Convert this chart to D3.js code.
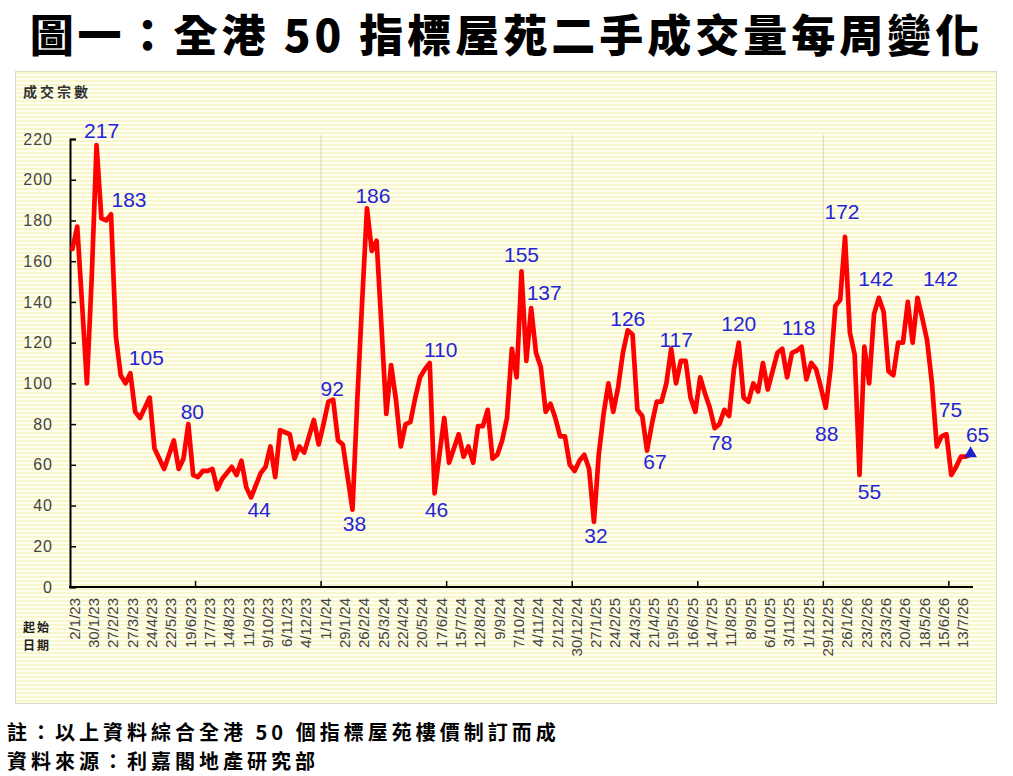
<!DOCTYPE html>
<html>
<head>
<meta charset="utf-8">
<script src="https://cdn.jsdelivr.net/npm/d3@7"></script>
<style>
  body { margin: 0; background: #fff; }
  svg { display: block; }
</style>
</head>
<body>
<div id="chart"></div>
<script>
// weekly transactions, 50 benchmark estates
var weeklyDeals = [
  166, 177, 139, 100, 152, 217, 181, 180, 183, 123,
  104, 100, 105, 86, 83, 88, 93, 68, 63, 58,
  65, 72, 58, 63, 80, 55, 54, 57, 57, 58,
  48, 53, 56, 59, 55, 62, 49, 44, 50, 56,
  59, 69, 54, 77, 76, 75, 63, 69, 66, 74,
  82, 70, 80, 91, 92, 72, 70, 54, 38, 92,
  140, 186, 165, 170, 128, 85, 109, 92, 69, 80,
  81, 93, 103, 107, 110, 46, 65, 83, 61, 68,
  75, 64, 69, 61, 79, 79, 87, 63, 65, 72,
  83, 117, 103, 155, 111, 137, 115, 108, 86, 90,
  83, 74, 74, 60, 57, 62, 65, 58, 32, 65,
  85, 100, 86, 98, 115, 126, 124, 87, 84, 67,
  80, 91, 91, 100, 117, 100, 111, 111, 93, 86,
  103, 95, 88, 78, 80, 87, 84, 107, 120, 93,
  91, 100, 96, 110, 97, 106, 115, 117, 103, 115,
  116, 118, 102, 110, 107, 98, 88, 107, 138, 141,
  172, 125, 114, 55, 118, 100, 134, 142, 135, 106,
  104, 120, 120, 140, 120, 142, 132, 121, 100, 69,
  74, 75, 55, 59, 64, 64, 65
];

// start-date labels, one every 4 weeks
var dateLabels = [
  "2/1/23", "30/1/23", "27/2/23", "27/3/23", "24/4/23", "22/5/23", "19/6/23",
  "17/7/23", "14/8/23", "11/9/23", "9/10/23", "6/11/23", "4/12/23", "1/1/24",
  "29/1/24", "26/2/24", "25/3/24", "22/4/24", "20/5/24", "17/6/24", "15/7/24",
  "12/8/24", "9/9/24", "7/10/24", "4/11/24", "2/12/24", "30/12/24", "27/1/25",
  "24/2/25", "24/3/25", "21/4/25", "19/5/25", "16/6/25", "14/7/25", "11/8/25",
  "8/9/25", "6/10/25", "3/11/25", "1/12/25", "29/12/25", "26/1/26", "23/2/26",
  "23/3/26", "20/4/26", "18/5/26", "15/6/26", "13/7/26"
];

var yTicks = [0, 20, 40, 60, 80, 100, 120, 140, 160, 180, 200, 220];

// weeks whose value is written on the chart
var labelledWeeks = [5, 8, 12, 24, 37, 54, 58, 61, 74, 75, 93, 95, 108,
                     115, 119, 124, 133, 138, 151, 156, 160, 163, 167, 175, 181, 186];

var titleText = "圖一：全港 50 指標屋苑二手成交量每周變化";
var noteLines = ["註：以上資料綜合全港 50 個指標屋苑樓價制訂而成",
                 "資料來源：利嘉閣地產研究部"];
var startLines = ["起始", "日期"];

var W = 1013, H = 776;
var svg = d3.select("#chart").append("svg").attr("width", W).attr("height", H);

// striped yellow background of the chart panel
var defs = svg.append("defs");
var pat = defs.append("pattern").attr("id", "stripes")
    .attr("patternUnits", "userSpaceOnUse").attr("width", 8).attr("height", 4);
pat.append("rect").attr("width", 8).attr("height", 4).attr("fill", "#fffff0");
pat.append("rect").attr("width", 8).attr("height", 2).attr("fill", "#f9f5cc");

svg.append("rect")
    .attr("x", 15.5).attr("y", 71.5).attr("width", 981).attr("height", 632)
    .attr("fill", "url(#stripes)").attr("stroke", "#dcdcc4");

// title
svg.append("text")
    .attr("x", W / 2).attr("y", 52)
    .attr("text-anchor", "middle")
    .style("font-family", "'Noto Sans CJK TC', sans-serif")
    .style("font-weight", 900).style("font-size", "44px")
    .style("letter-spacing", "4px")
    .text(titleText);

var x = d3.scaleBand().domain(d3.range(weeklyDeals.length)).range([70, 973]);
var y = d3.scaleLinear().domain([0, 220]).range([587, 139]);
var xc = function(i) { return x(i) + x.bandwidth() / 2; };

// yearly vertical grid lines
svg.append("g").selectAll("line")
    .data(d3.range(52, weeklyDeals.length, 52))
    .join("line")
    .attr("x1", function(d) { return x(d); }).attr("x2", function(d) { return x(d); })
    .attr("y1", 135).attr("y2", y(0))
    .attr("stroke", "#d6d6d0").attr("stroke-width", 1);

// y axis
var yAxis = svg.append("g").attr("transform", "translate(70,0)")
    .call(d3.axisLeft(y).tickValues(yTicks).tickSize(-6).tickPadding(17));
yAxis.select(".domain").attr("stroke", "#000").attr("stroke-width", 2);
yAxis.selectAll(".tick line").attr("stroke", "#000").attr("stroke-width", 1.5);
yAxis.selectAll("text")
    .style("font-family", "'Liberation Sans', Arial, sans-serif")
    .style("font-size", "16px").style("letter-spacing", "1px")
    .attr("fill", "#444");

svg.append("text")
    .attr("x", 23).attr("y", 97)
    .style("font-family", "'Noto Sans CJK TC', sans-serif")
    .style("font-weight", 700).style("font-size", "14px")
    .style("letter-spacing", "3px")
    .attr("fill", "#333")
    .text("成交宗數");

// x axis: date labels every 4 weeks
var xAxis = svg.append("g").attr("transform", "translate(0," + y(0) + ")")
    .call(d3.axisBottom(x)
      .tickValues(d3.range(0, weeklyDeals.length, 4))
      .tickSize(0)
      .tickFormat(function(i) { return dateLabels[i / 4]; }));
xAxis.select(".domain").remove();
xAxis.selectAll("text")
    .attr("transform", "rotate(-90)")
    .attr("text-anchor", "end")
    .attr("x", -11).attr("y", 2).attr("dy", "0.35em")
    .style("font-family", "'Liberation Sans', Arial, sans-serif")
    .style("font-size", "15px")
    .attr("fill", "#444");

// half-year tick marks between categories
svg.append("g").selectAll("line")
    .data(d3.range(26, weeklyDeals.length, 26))
    .join("line")
    .attr("x1", function(d) { return x(d); }).attr("x2", function(d) { return x(d); })
    .attr("y1", y(0)).attr("y2", y(0) - 6)
    .attr("stroke", "#000").attr("stroke-width", 1.5);

svg.append("line")
    .attr("x1", 69).attr("x2", 973).attr("y1", y(0)).attr("y2", y(0))
    .attr("stroke", "#000").attr("stroke-width", 2);

// "start date" caption, two short lines
svg.append("g")
    .style("font-family", "'Noto Sans CJK TC', sans-serif")
    .style("font-weight", 700).style("font-size", "12px")
    .style("letter-spacing", "2px")
    .attr("fill", "#222")
    .selectAll("text")
    .data(startLines)
    .join("text")
    .attr("x", 23)
    .attr("y", function(d, i) { return 632 + i * 18; })
    .text(function(d) { return d; });

// the weekly line
var line = d3.line()
    .x(function(d, i) { return xc(i); })
    .y(function(d) { return y(d); });

svg.append("path")
    .datum(weeklyDeals)
    .attr("d", line)
    .attr("fill", "none")
    .attr("stroke", "#ff0000")
    .attr("stroke-width", 4.7)
    .attr("stroke-linejoin", "round")
    .attr("stroke-linecap", "round");

// last week marker
var last = weeklyDeals.length - 1;
svg.append("path")
    .attr("d", d3.symbol().type(d3.symbolTriangle).size(70))
    .attr("transform", "translate(" + xc(last) + "," + (y(weeklyDeals[last]) - 1) + ")")
    .attr("fill", "#1f1fd0");

// value labels, nudged off the line like the original
var nudge = {
  5: [5, -7], 8: [18, -7], 12: [16, -8], 24: [4, -5], 37: [8, 20],
  54: [-1, -4], 58: [2, 21], 61: [6, -5], 74: [11, -6], 75: [2, 24],
  93: [0, -9], 95: [13, -8], 108: [2, 21], 115: [0, -4], 119: [8, 18],
  124: [5, -2], 133: [6, 22], 138: [0, -12], 151: [-3, -12], 156: [1, 33],
  160: [-3, -18], 163: [10, 24], 167: [-3, -12], 175: [23, -12], 181: [4, -17],
  186: [7, -13]
};

svg.append("g").selectAll("text")
    .data(labelledWeeks)
    .join("text")
    .attr("x", function(i) { return xc(i) + nudge[i][0]; })
    .attr("y", function(i) { return y(weeklyDeals[i]) + nudge[i][1]; })
    .attr("text-anchor", "middle")
    .style("font-family", "'Liberation Sans', Arial, sans-serif")
    .style("font-size", "21px")
    .attr("fill", "#2424d8")
    .text(function(i) { return weeklyDeals[i]; });

// footnotes
svg.append("g")
    .style("font-family", "'Noto Sans CJK TC', sans-serif")
    .style("font-weight", 700).style("font-size", "20px")
    .style("letter-spacing", "4px")
    .selectAll("text")
    .data(noteLines)
    .join("text")
    .attr("x", 7)
    .attr("y", function(d, i) { return 740 + i * 29; })
    .text(function(d) { return d; });
</script>
</body>
</html>
